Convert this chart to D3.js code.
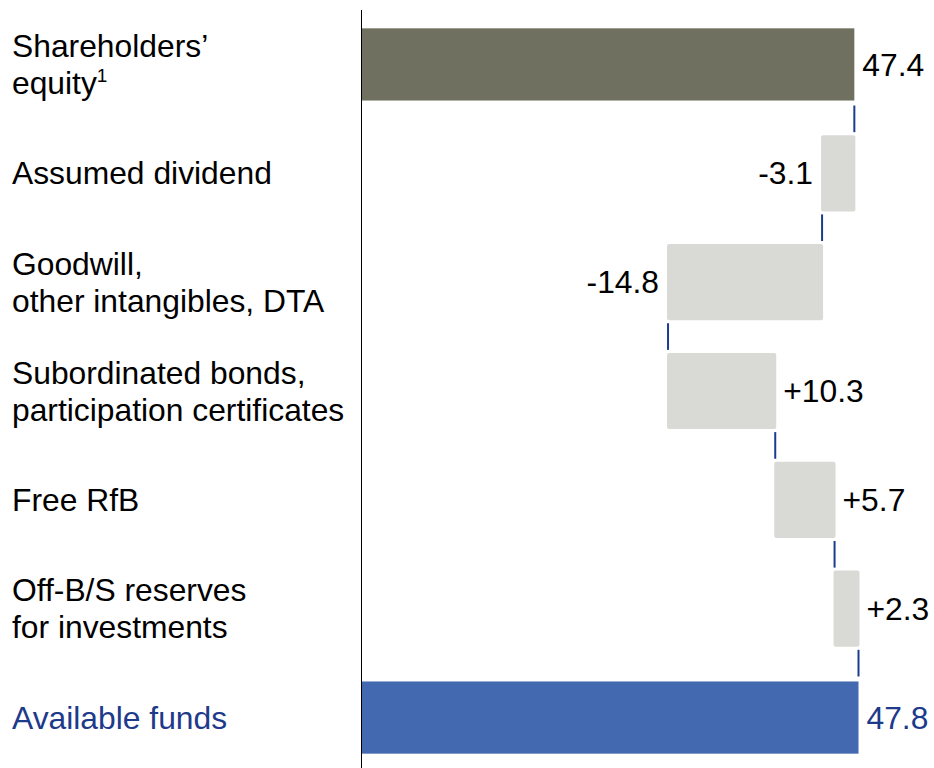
<!DOCTYPE html>
<html>
<head>
<meta charset="utf-8">
<script src="https://cdn.jsdelivr.net/npm/d3@7"></script>
<style>
  html, body { margin: 0; padding: 0; background: #fff; }
  svg { display: block; font-family: "Liberation Sans", Arial, sans-serif; }
</style>
</head>
<body>
<svg id="chart" width="934" height="768"></svg>
<script>
const categories = ["Shareholders’\nequity", "Assumed dividend", "Goodwill,\nother intangibles, DTA", "Subordinated bonds,\nparticipation certificates", "Free RfB", "Off-B/S reserves\nfor investments", "Available funds"];
const values = [47.4, -3.1, -14.8, 10.3, 5.7, 2.3, 47.8];
const kinds = ["total", "delta", "delta", "delta", "delta", "delta", "total"];
const valueLabels = ["47.4", "-3.1", "-14.8", "+10.3", "+5.7", "+2.3", "47.8"];
const footnotes = ["1", "", "", "", "", "", ""];

const svg = d3.select("#chart");
const fontSize = 31.8;

const x = d3.scaleLinear().domain([0, 47.8]).range([361, 858.5]);
const y = d3.scaleBand().domain(categories).range([10, 772]).paddingInner(0.3).paddingOuter(0.15);

let running = 0;
const rows = categories.map((c, i) => {
  let start, end;
  if (kinds[i] === "total") { start = 0; end = values[i]; running = values[i]; }
  else { start = running; end = running + values[i]; running = end; }
  return { cat: c, value: values[i], kind: kinds[i], start, end, label: valueLabels[i], idx: i, fn: footnotes[i] };
});

const colors = { first: "#6f705f", last: "#436ab0", delta: "#d9dad5" };
const blueText = "#1e3a8a";

// connectors
const conn = svg.append("g");
rows.slice(0, -1).forEach((r, i) => {
  const next = rows[i + 1];
  conn.append("line")
    .attr("x1", x(r.end)).attr("x2", x(r.end))
    .attr("y1", y(r.cat) + y.bandwidth() + 3)
    .attr("y2", y(next.cat) - 3)
    .attr("stroke", "#1b3b8f").attr("stroke-width", 2);
});

// bars
svg.append("g").selectAll("rect").data(rows).join("rect")
  .attr("x", d => x(Math.min(d.start, d.end)) + (d.kind === "total" ? 1 : -1))
  .attr("width", d => Math.abs(x(d.end) - x(d.start)) + (d.kind === "total" ? -1 : 2))
  .attr("y", d => y(d.cat) + (d.kind === "total" ? 2 : 0))
  .attr("height", d => y.bandwidth() - (d.kind === "total" ? 4 : 0))
  .attr("rx", d => d.kind === "total" ? 0 : 2)
  .attr("fill", d => d.kind === "total" ? (d.idx === 0 ? colors.first : colors.last) : colors.delta);

// value labels
svg.append("g").selectAll("text").data(rows).join("text")
  .attr("x", d => d.value >= 0 || d.kind === "total" ? x(Math.max(d.start, d.end)) + 8 : x(Math.min(d.start, d.end)) - 9)
  .attr("y", d => y(d.cat) + y.bandwidth() / 2)
  .attr("dy", "0.35em")
  .attr("text-anchor", d => d.value >= 0 || d.kind === "total" ? "start" : "end")
  .attr("font-size", fontSize)
  .attr("fill", d => d.idx === rows.length - 1 ? blueText : "#000")
  .text(d => d.label);

// category labels
const lab = svg.append("g");
rows.forEach(r => {
  const lines = r.cat.split("\n");
  const cy = y(r.cat) + y.bandwidth() / 2 + 11;
  const lh = 37;
  const t = lab.append("text")
    .attr("x", 12)
    .attr("font-size", fontSize)
    .attr("fill", r.idx === rows.length - 1 ? blueText : "#000");
  lines.forEach((ln, j) => {
    const ty = cy + (j - (lines.length - 1) / 2) * lh;
    t.append("tspan").attr("x", 12).attr("y", ty).text(ln);
    if (j === lines.length - 1 && r.fn) {
      t.append("tspan").attr("dy", -12).attr("font-size", 19).text(r.fn);
    }
  });
});

// axis line
const axis = d3.axisLeft(y).tickSize(0).tickFormat("");
svg.append("g").attr("transform", `translate(${x(0)},0)`).call(axis)
  .call(g => g.select(".domain").attr("d", `M0.5,10V768`).attr("stroke", "#000").attr("stroke-width", 1));
</script>
</body>
</html>
